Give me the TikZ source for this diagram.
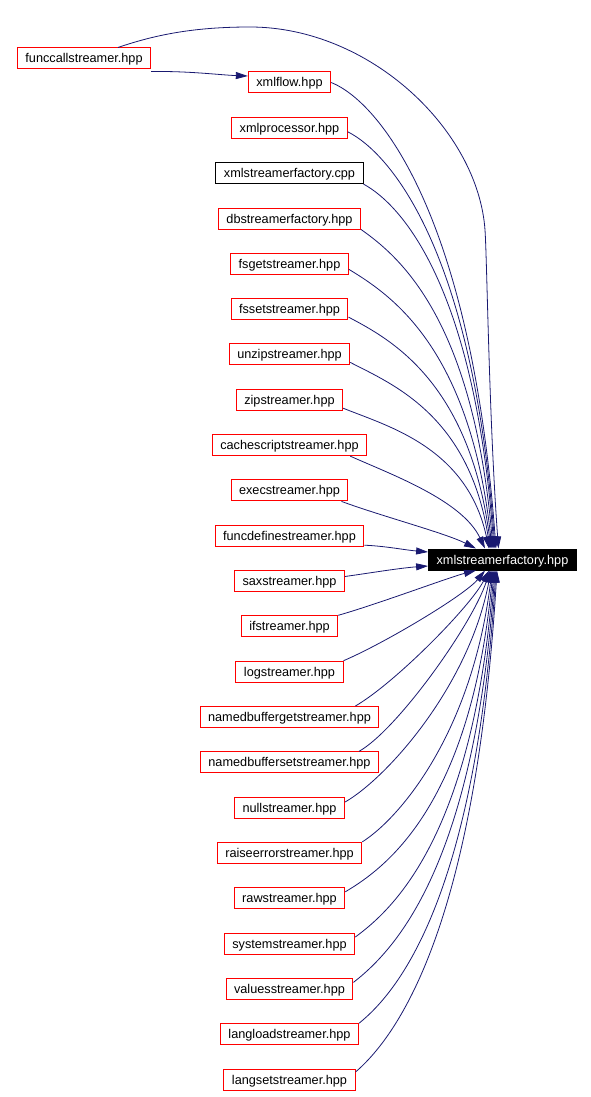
\documentclass[tikz,border=0pt]{standalone}
\usepackage{fontspec}
\setmainfont{Liberation Sans}
\usetikzlibrary{arrows.meta}
\definecolor{edgec}{HTML}{191970}
\begin{document}
\begin{tikzpicture}[x=1pt,y=-1pt,
  fbox/.style={draw=red, line width=1pt, fill=white, font=\fontsize{12.7}{15}\selectfont,
    inner xsep=8pt, inner ysep=0pt, text height=9pt, text depth=0pt, minimum height=21pt, text=black},
  fboxblk/.style={fbox, draw=black},
  tgtbox/.style={fbox, draw=black, fill=black, text=white},
  edge/.style={draw=edgec, line width=0.8pt, -{Triangle[length=12pt,width=7pt]}}]
\useasboundingbox (0,0) rectangle (591,1097);
\node[fbox] (funccall) at (84,58.5) {funccallstreamer.hpp};
\node[fbox] (xmlflow) at (289.5,82.5) {xmlflow.hpp};
\node[fbox] (xmlproc) at (289.5,127.8) {xmlprocessor.hpp};
\node[fboxblk] (xsfcpp) at (289.5,173.1) {xmlstreamerfactory.cpp};
\node[fbox] (dbsf) at (289.5,218.5) {dbstreamerfactory.hpp};
\node[fbox] (fsget) at (289.5,263.8) {fsgetstreamer.hpp};
\node[fbox] (fsset) at (289.5,309.1) {fssetstreamer.hpp};
\node[fbox] (unzip) at (289.5,354.4) {unzipstreamer.hpp};
\node[fbox] (zip) at (289.5,399.7) {zipstreamer.hpp};
\node[fbox] (cache) at (289.5,445.1) {cachescriptstreamer.hpp};
\node[fbox] (exec) at (289.5,490.4) {execstreamer.hpp};
\node[fbox] (funcdef) at (289.5,535.7) {funcdefinestreamer.hpp};
\node[fbox] (sax) at (289.5,581) {saxstreamer.hpp};
\node[fbox] (ifs) at (289.5,626.3) {ifstreamer.hpp};
\node[fbox] (logs) at (289.5,671.7) {logstreamer.hpp};
\node[fbox] (nbget) at (289.5,717) {namedbuffergetstreamer.hpp};
\node[fbox] (nbset) at (289.5,762.3) {namedbuffersetstreamer.hpp};
\node[fbox] (nulls) at (289.5,807.6) {nullstreamer.hpp};
\node[fbox] (raise) at (289.5,852.9) {raiseerrorstreamer.hpp};
\node[fbox] (raws) at (289.5,898.3) {rawstreamer.hpp};
\node[fbox] (systems) at (289.5,943.6) {systemstreamer.hpp};
\node[fbox] (values) at (289.5,988.9) {valuesstreamer.hpp};
\node[fbox] (langload) at (289.5,1034.2) {langloadstreamer.hpp};
\node[fbox] (langset) at (289.5,1079.5) {langsetstreamer.hpp};
\node[tgtbox] (tgt) at (502.5,559.5) {xmlstreamerfactory.hpp};

% funccall edges
\draw[edge] ([yshift=-2pt]funccall.south east) .. controls (190,71) and (220,75) .. ([yshift=6.5pt]xmlflow.west);
\draw[edge] ([xshift=34pt]funccall.north) .. controls (160,33) and (200,27) .. (250,27)
   .. controls (370,27) and (478,130) .. (485,230)
   .. controls (487,258) and (489,420) .. ([xshift=-4pt]tgt.north);
% above
\draw[edge] (xmlflow.east) .. controls (379,101.5) and (471,214) .. ([xshift=-6.5pt]tgt.north);
\draw[edge] ([yshift=-4pt]xmlproc.east) .. controls (390,153) and (472.5,249) .. ([xshift=-7.5pt]tgt.north);
\draw[edge] (xsfcpp.south east) .. controls (402,205) and (474,286) .. ([xshift=-8.5pt]tgt.north);
\draw[edge] (dbsf.south east) .. controls (400,257) and (473,319) .. ([xshift=-9.5pt]tgt.north);
\draw[edge] ([yshift=-5.5pt]fsget.east) .. controls (391,295) and (470,347) .. ([xshift=-10.5pt]tgt.north);
\draw[edge] ([yshift=-8pt]fsset.east) .. controls (390,339) and (469,381) .. ([xshift=-11.5pt]tgt.north);
\draw[edge] ([yshift=-8pt]unzip.east) .. controls (392,384) and (469,415) .. ([xshift=-12.5pt]tgt.north);
\draw[edge] ([yshift=-8.5pt]zip.east) .. controls (387,426) and (467,447) .. ([xshift=-13.5pt]tgt.north);
\draw[edge] ([xshift=-17pt]cache.south east) .. controls (390,474) and (462,500) .. ([xshift=-17.5pt]tgt.north);
\draw[edge] ([xshift=-7pt]exec.south east) .. controls (381,516) and (445,533) .. ([xshift=-26.5pt]tgt.north);
% left
\draw[edge] ([yshift=1.5pt]funcdef.south east) .. controls (385,546) and (405,550) .. ([yshift=7.5pt]tgt.west);
\draw[edge] ([yshift=4.5pt]sax.east) .. controls (370,573) and (400,568) .. ([yshift=-6.5pt]tgt.west);
% below
\draw[edge] (ifs.north east) .. controls (378,604) and (450,577) .. ([xshift=-26.5pt]tgt.south);
\draw[edge] (logs.north east) .. controls (385,643) and (465,595) .. ([xshift=-17.5pt]tgt.south);
\draw[edge] ([xshift=-24pt]nbget.north east) .. controls (395,683) and (470,607) .. ([xshift=-13.5pt]tgt.south);
\draw[edge] ([xshift=-20pt]nbset.north east) .. controls (397,730) and (472,625) .. ([xshift=-12.5pt]tgt.south);
\draw[edge] ([yshift=5.5pt]nulls.east) .. controls (387,778) and (469,686) .. ([xshift=-11.5pt]tgt.south);
\draw[edge] (raise.north east) .. controls (400,818) and (472,733) .. ([xshift=-10.5pt]tgt.south);
\draw[edge] ([yshift=6.5pt]raws.east) .. controls (389,866) and (471,802) .. ([xshift=-9.5pt]tgt.south);
\draw[edge] ([yshift=6.5pt]systems.east) .. controls (395,908) and (473,834) .. ([xshift=-8.5pt]tgt.south);
\draw[edge] ([yshift=6.5pt]values.east) .. controls (395,950) and (474,867) .. ([xshift=-7.5pt]tgt.south);
\draw[edge] (langload.north east) .. controls (399,991) and (475,897) .. ([xshift=-6.5pt]tgt.south);
\draw[edge] ([yshift=7.5pt]langset.east) .. controls (396,1037) and (475,931) .. ([xshift=-5.5pt]tgt.south);
\end{tikzpicture}
\end{document}
